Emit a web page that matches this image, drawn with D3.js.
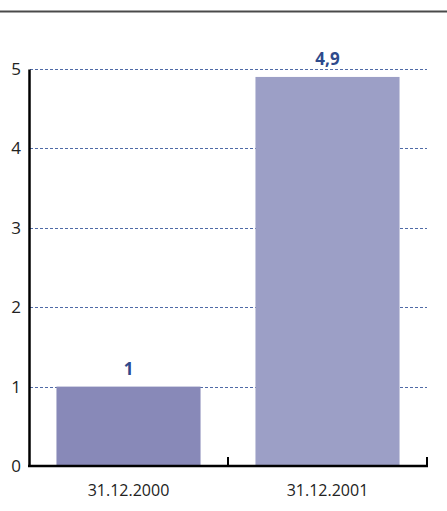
<!DOCTYPE html>
<html>
<head>
<meta charset="utf-8">
<script src="https://cdn.jsdelivr.net/npm/d3@7"></script>
<style>
  body { margin: 0; background: #fff; }
  text { font-family: "Open Sans", "Noto Sans", sans-serif; }
</style>
</head>
<body>
<svg id="svg" width="447" height="511"></svg>
<script>
    // data
    var categories = ["31.12.2000", "31.12.2001"];
    var values = [1, 4.9];
    var valueLabels = ["1", "4,9"];
    var yTicks = [0, 1, 2, 3, 4, 5];
    var barColors = ["#8889b8", "#9c9fc6"];

    var svg = d3.select("svg#svg");

    var plotLeft = 29, plotRight = 427, plotTop = 69, plotBottom = 466;

    // - top rule
    svg.append("line")
        .attr("x1", 0).attr("x2", 447)
        .attr("y1", 11.5).attr("y2", 11.5)
        .style("stroke", "#4a4a4a")
        .style("stroke-width", 2);

    var x = d3.scaleBand().domain(categories).range([plotLeft, plotRight]).paddingInner(0.276).paddingOuter(0.138);
    var y = d3.scaleLinear().domain([0, 5]).range([plotBottom, plotTop]);

    // - grid lines
    svg.append("g").selectAll("line").data(yTicks.filter(function(d) { return d > 0; }))
        .enter().append("line")
        .attr("x1", plotLeft + 1).attr("x2", plotRight)
        .attr("y1", function(d) { return Math.round(y(d)) + 0.5; })
        .attr("y2", function(d) { return Math.round(y(d)) + 0.5; })
        .style("stroke", "#4f6aa6")
        .style("stroke-width", 1)
        .style("stroke-dasharray", "3,2");

    // - bars
    svg.append("g").selectAll("rect").data(values)
        .enter().append("rect")
        .attr("x", function(d, i) { return x(categories[i]); })
        .attr("y", function(d) { return y(d); })
        .attr("width", x.bandwidth())
        .attr("height", function(d) { return y(0) - y(d); })
        .style("fill", function(d, i) { return barColors[i]; });

    // - value labels
    svg.append("g").selectAll("text").data(values)
        .enter().append("text")
        .attr("x", function(d, i) { return x(categories[i]) + x.bandwidth() / 2; })
        .attr("y", function(d) { return y(d) - 12; })
        .attr("text-anchor", "middle")
        .style("font-size", "17px")
        .style("font-weight", "bold")
        .style("fill", "#2e4a8c")
        .text(function(d, i) { return valueLabels[i]; });

    // - y axis
    var yAxis = d3.axisLeft(y).tickValues(yTicks).tickFormat(d3.format("d")).tickSize(0).tickPadding(8);
    var gy = svg.append("g").attr("transform", "translate(" + plotLeft + ",0)").call(yAxis);
    gy.select(".domain").style("stroke", "#000").style("stroke-width", 2.5);
    gy.selectAll("text")
        .style("font-size", "17px")
        .style("font-family", "'Open Sans', sans-serif")
        .style("fill", "#222");

    // - x axis
    var gx = svg.append("g").attr("transform", "translate(0," + plotBottom + ")");
    gx.append("line")
        .attr("x1", plotLeft - 1).attr("x2", plotRight + 1)
        .attr("y1", 0).attr("y2", 0)
        .style("stroke", "#000").style("stroke-width", 2.5);
    var sepTicks = categories.map(function(c) { return x(c) + x.bandwidth() + x.step() * x.paddingInner() / 2; });
    gx.selectAll("line.sep").data(sepTicks)
        .enter().append("line").attr("class", "sep")
        .attr("x1", function(d) { return d; }).attr("x2", function(d) { return d; })
        .attr("y1", 0).attr("y2", -9)
        .style("stroke", "#000").style("stroke-width", 2);
    gx.selectAll("text").data(categories)
        .enter().append("text")
        .attr("x", function(d) { return x(d) + x.bandwidth() / 2; })
        .attr("y", 30)
        .attr("text-anchor", "middle")
        .style("font-size", "16px")
        .style("fill", "#222")
        .text(function(d) { return d; });
</script>
</body>
</html>
